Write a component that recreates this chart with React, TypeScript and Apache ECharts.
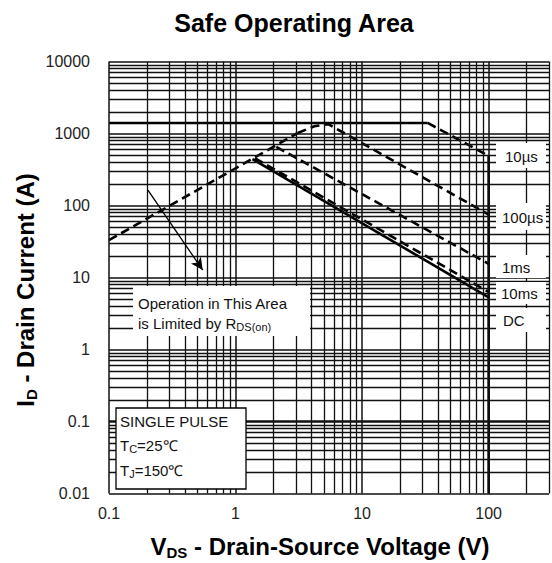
import React, { useEffect, useRef } from "react";
import * as echarts from "echarts";

// ---- axis ticks ----
const xTicks = [0.1, 1, 10, 100];
const yTicks = [0.01, 0.1, 1, 10, 100, 1000, 10000];
const xMin = 0.1;
const xMax = 300;
const yMin = 0.01;
const yMax = 10000;
const gridMultipliers = [1, 2, 3, 4, 5, 6, 7, 8, 9];

// ---- SOA boundary curves (VDS [V], ID [A]) ----
const currentLimit = [[0.1, 1400], [33, 1400]];
const rdsLimit = [[0.1, 33], [3.1, 1016]];
const pulse100us = [[3.1, 1016], [4.2, 1260], [5.4, 1345], [7.2, 1016], [100, 75]];
const pulse10us = [[33, 1400], [100, 490]];
const pulse1ms = [[2.1, 650], [100, 15.5]];
const pulse10ms = [[1.42, 455], [100, 6.3]];
const dcLine = [[1.36, 440], [100, 5.3]];
const breakdown = [[100, 490], [100, 0.01]];
const arrowLine = [[0.203, 164], [0.55, 12.7]];

const FONT = "'Liberation Sans', Arial, Helvetica, sans-serif";

const fmt = (v: number) => String(Number(v.toPrecision(6)));
const isTick = (ticks: number[], v: number) => ticks.some((t) => Math.abs(t - v) / t < 1e-6);

export default function App() {
  const ref = useRef<HTMLDivElement>(null);
  useEffect(() => {
    const chart = echarts.init(ref.current!, undefined, { renderer: "svg" });

    const vLines: any[] = [];
    xTicks.forEach((d) =>
      gridMultipliers.forEach((m) => {
        const v = Number((d * m).toPrecision(4));
        if (v >= xMin && v <= xMax) vLines.push({ xAxis: v, lineStyle: { width: m === 1 ? 1.5 : 1.3 } });
      })
    );
    const hLines: any[] = [];
    yTicks.forEach((d) =>
      gridMultipliers.forEach((m) => {
        const v = Number((d * m).toPrecision(4));
        if (v >= yMin && v <= yMax)
          hLines.push({ yAxis: v, lineStyle: { width: v === 0.1 ? 2.6 : m === 1 ? 1.5 : 1.3 } });
      })
    );

    const curve = (name: string, data: number[][], dashed: boolean) => ({
      name,
      type: "line",
      data,
      symbol: "none",
      showSymbol: false,
      silent: true,
      z: 4,
      lineStyle: { color: "#000", width: 2.6, type: dashed ? [9, 5] : "solid" },
    });

    const sub = { fontSize: 11, fontFamily: FONT, fill: "#111", verticalAlign: "bottom", lineHeight: 12 };
    const norm = { fontSize: 15, fontFamily: FONT, fill: "#111", lineHeight: 18 };

    const labelBoxes = [
      { y: 143, h: 25, text: "10µs", tx: 505, ty: 156 },
      { y: 203, h: 27, text: "100µs", tx: 502, ty: 217 },
      { y: 255, h: 23, text: "1ms", tx: 502, ty: 267 },
      { y: 282, h: 22, text: "10ms", tx: 501, ty: 293 },
      { y: 308, h: 24, text: "DC", tx: 503, ty: 320 },
    ];

    const titleRich = {
      b: { fontSize: 24, fontWeight: "bold", fontFamily: FONT, fill: "#000", lineHeight: 28 },
      s: { fontSize: 15, fontWeight: "bold", fontFamily: FONT, fill: "#000", verticalAlign: "bottom", lineHeight: 14 },
    };

    const graphics: any[] = [
      {
        type: "text",
        x: 294,
        y: 23,
        style: { text: "Safe Operating Area", font: `bold 25px ${FONT}`, fill: "#000", align: "center", verticalAlign: "middle" },
      },
      {
        type: "text",
        x: 320,
        y: 546,
        style: {
          text: "{b|V}{s|DS}{b| - Drain-Source Voltage (V)}",
          align: "center",
          verticalAlign: "middle",
          rich: titleRich,
        },
      },
      {
        type: "text",
        x: 25,
        y: 290,
        rotation: Math.PI / 2,
        style: {
          text: "{b|I}{s|D}{b| - Drain Current (A)}",
          align: "center",
          verticalAlign: "middle",
          rich: titleRich,
        },
      },
      // Operation area note
      { type: "rect", z: 10, shape: { x: 133, y: 286, width: 177, height: 50 }, style: { fill: "#fff" } },
      {
        type: "text",
        z: 11,
        x: 138,
        y: 303,
        style: { text: "Operation in This Area", font: `15px ${FONT}`, fill: "#111", verticalAlign: "middle" },
      },
      {
        type: "text",
        z: 11,
        x: 138,
        y: 323,
        style: { text: "{n|is Limited by R}{s|DS(on)}", verticalAlign: "middle", rich: { n: norm, s: sub } },
      },
      // Single pulse box
      {
        type: "rect",
        z: 10,
        shape: { x: 116, y: 408, width: 130, height: 81 },
        style: { fill: "#fff", stroke: "#000", lineWidth: 1.3 },
      },
      {
        type: "text",
        z: 11,
        x: 120,
        y: 421,
        style: { text: "SINGLE PULSE", font: `15px ${FONT}`, fill: "#111", verticalAlign: "middle" },
      },
      {
        type: "text",
        z: 11,
        x: 120,
        y: 445,
        style: { text: "{n|T}{s|C}{n|=25℃}", verticalAlign: "middle", rich: { n: norm, s: sub } },
      },
      {
        type: "text",
        z: 11,
        x: 120,
        y: 470,
        style: { text: "{n|T}{s|J}{n|=150℃}", verticalAlign: "middle", rich: { n: norm, s: sub } },
      },
    ];
    labelBoxes.forEach((b) => {
      graphics.push({ type: "rect", z: 10, shape: { x: 496, y: b.y, width: 50, height: b.h }, style: { fill: "#fff" } });
      graphics.push({
        type: "text",
        z: 11,
        x: b.tx,
        y: b.ty,
        style: { text: b.text, font: `15px ${FONT}`, fill: "#111", verticalAlign: "middle" },
      });
    });

    const option: any = {
      animation: false,
      backgroundColor: "#fff",
      grid: { left: 109, top: 61.5, width: 441, height: 432, show: false },
      xAxis: {
        type: "log",
        logBase: 10,
        min: xMin,
        max: xMax,
        axisLine: { show: false },
        axisTick: { show: false },
        splitLine: { show: false },
        minorSplitLine: { show: false },
        axisLabel: {
          margin: 12,
          fontSize: 16,
          color: "#222",
          fontFamily: FONT,
          formatter: (v: number) => (isTick(xTicks, v) ? fmt(v) : ""),
        },
      },
      yAxis: {
        type: "log",
        logBase: 10,
        min: yMin,
        max: yMax,
        axisLine: { show: false },
        axisTick: { show: false },
        splitLine: { show: false },
        axisLabel: {
          margin: 19,
          fontSize: 16,
          color: "#222",
          fontFamily: FONT,
          formatter: (v: number) => (isTick(yTicks, v) ? fmt(v) : ""),
        },
      },
      series: [
        {
          name: "grid",
          type: "line",
          data: [[1, 1]],
          symbol: "none",
          showSymbol: false,
          lineStyle: { width: 0 },
          silent: true,
          z: 1,
          markLine: {
            silent: true,
            symbol: "none",
            label: { show: false },
            emphasis: { disabled: true },
            lineStyle: { color: "#111", type: "solid", width: 1.3 },
            data: [...vLines, ...hLines],
          },
        },
        curve("Current limit", currentLimit, false),
        curve("RDS(on) limit", rdsLimit, true),
        curve("100µs", pulse100us, true),
        curve("10µs", pulse10us, true),
        curve("1ms", pulse1ms, true),
        curve("10ms", pulse10ms, true),
        curve("DC", dcLine, false),
        {
          ...curve("VDSS", breakdown, false),
          markLine: {
            silent: true,
            symbol: ["none", "arrow"],
            symbolSize: [9, 12],
            label: { show: false },
            emphasis: { disabled: true },
            lineStyle: { color: "#000", type: "solid", width: 1.3 },
            data: [[{ coord: arrowLine[0] }, { coord: arrowLine[1] }]],
          },
        },
      ],
      graphic: { elements: graphics },
    };
    chart.setOption(option);
    return () => chart.dispose();
  }, []);
  return <div ref={ref} style={{ position: "fixed", left: 0, top: 0, width: 552, height: 563 }} />;
}
